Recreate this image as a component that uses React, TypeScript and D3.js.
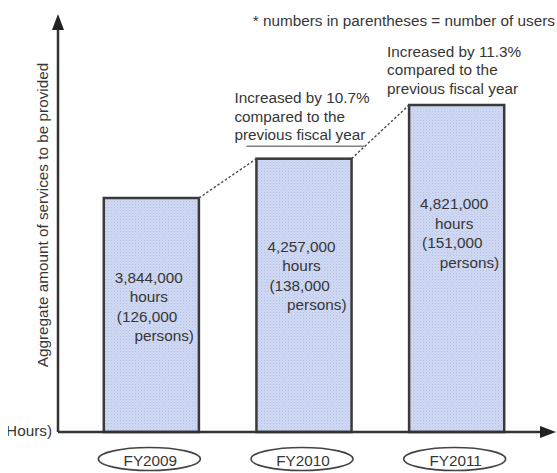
import React from "react";
import * as d3 from "d3";

const categories = ["FY2009", "FY2010", "FY2011"];
const hoursValues = [3844000, 4257000, 4821000];
const personValues = [126000, 138000, 151000];
const increaseLabels = ["Increased by 10.7%", "Increased by 11.3%"];
const noteText = "* numbers in parentheses = number of users";
const yAxisTitle = "Aggregate amount of services to be provided";
const unitLabel = "(Hours)";

const W = 557;
const H = 473;
const FONT = "'Liberation Sans', Arial, sans-serif";
const FS = 15.3;
const TEXT = "#363636";

export default function App() {
  const axisX = 58;
  const axisY = 432;
  const x = d3
    .scaleBand<string>()
    .domain(categories)
    .range([axisX, 550])
    .paddingInner(0.377)
    .paddingOuter(0.3);
  const y = d3.scaleLinear().domain([1386000, 4821000]).range([axisY, 105]);
  const fmt = d3.format(",");

  const bars = categories.map((c, i) => {
    const left = x(c)!;
    const right = left + x.bandwidth();
    const top = y(hoursValues[i]);
    return { c, i, left, right, top, h: axisY - top };
  });

  return (
    <div style={{ position: "absolute", left: 0, top: 0 }}>
      <svg width={W} height={H} style={{ display: "block" }} fontFamily={FONT}>
        <defs>
          <pattern id="dots" width="3" height="3" patternUnits="userSpaceOnUse">
            <rect width="3" height="3" fill="#d0d9f2" />
            <rect x="0" y="0" width="1" height="1" fill="#b5c1e6" />
            <rect x="1.5" y="1.5" width="1" height="1" fill="#bdc8ea" />
          </pattern>
          <clipPath id="edge">
            <rect x={8} y={0} width={W} height={H} />
          </clipPath>
        </defs>
        <rect width={W} height={H} fill="#fff" />

        {/* note */}
        <text x={555} y={26} textAnchor="end" fontSize={FS} fill={TEXT}>
          {noteText}
        </text>

        {/* bars */}
        {bars.map((b) => (
          <rect
            key={b.c}
            x={b.left}
            y={b.top}
            width={b.right - b.left}
            height={b.h}
            fill="url(#dots)"
            stroke="#3a3a3a"
            strokeWidth={2.5}
          />
        ))}

        {/* bar labels */}
        {bars.map((b) => {
          const cx = (b.left + b.right) / 2 - 2.5;
          const base = b.top + 0.2065 * b.h + 36.5;
          const ls = 19.5;
          return (
            <g key={"l" + b.c} fontSize={FS} fill={TEXT}>
              <text x={cx} y={base} textAnchor="middle">
                {fmt(hoursValues[b.i])}
              </text>
              <text x={cx} y={base + ls} textAnchor="middle">
                hours
              </text>
              <text x={b.left + 13} y={base + 2 * ls}>
                {"(" + fmt(personValues[b.i])}
              </text>
              <text x={b.right - 5} y={base + 3 * ls} textAnchor="end">
                persons)
              </text>
            </g>
          );
        })}

        {/* connectors and annotations */}
        {bars.slice(1).map((b, k) => {
          const prev = bars[k];
          const midY = (prev.top + b.top) / 2;
          const ax = b.left - 22;
          const ay = midY - 75;
          const ls = 18.5;
          return (
            <g key={"a" + b.c}>
              <line
                x1={prev.right}
                y1={prev.top}
                x2={b.left}
                y2={b.top}
                stroke="#4a4a4a"
                strokeWidth={1.4}
                strokeDasharray="2.5,2"
              />
              <g fontSize={FS} fill={TEXT}>
                <text x={ax} y={ay}>{increaseLabels[k]}</text>
                <text x={ax} y={ay + ls}>compared to the</text>
                <text x={ax} y={ay + 2 * ls}>previous fiscal year</text>
              </g>
              {k === 0 && (
                <line
                  x1={ax + 12}
                  x2={ax + 130}
                  y1={ay + 2 * ls + 6}
                  y2={ay + 2 * ls + 6}
                  stroke="#808080"
                  strokeWidth={1.5}
                />
              )}
            </g>
          );
        })}

        {/* axes */}
        <line x1={axisX} y1={axisY} x2={axisX} y2={26} stroke="#333" strokeWidth={2.5} />
        <path d={`M${axisX},14 L${axisX - 6},30 L${axisX + 6},30 Z`} fill="#222" />
        <line x1={axisX} y1={axisY} x2={544} y2={axisY} stroke="#333" strokeWidth={2.5} />
        <path d={`M556,${axisY} L540,${axisY - 6} L540,${axisY + 6} Z`} fill="#222" />

        {/* y title */}
        <text
          transform={`translate(48,215) rotate(-90)`}
          textAnchor="middle"
          fontSize={FS}
          fill={TEXT}
        >
          {yAxisTitle}
        </text>
        <g clipPath="url(#edge)">
          <text x={52} y={436} textAnchor="end" fontSize={FS} fill={TEXT}>
            {unitLabel}
          </text>
        </g>

        {/* category ellipses */}
        {bars.map((b) => {
          const cx = (b.left + b.right) / 2 - 2;
          return (
            <g key={"c" + b.c}>
              <ellipse cx={cx} cy={459} rx={51} ry={11.5} fill="#fff" stroke="#444" strokeWidth={1.6} />
              <text x={cx + 1} y={465.5} textAnchor="middle" fontSize={FS} fill={TEXT}>
                {b.c}
              </text>
            </g>
          );
        })}
      </svg>
    </div>
  );
}
